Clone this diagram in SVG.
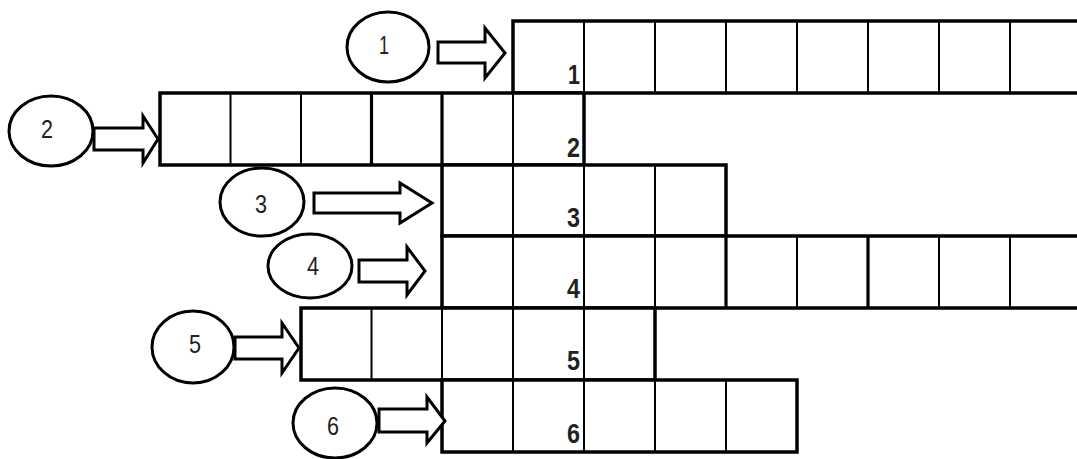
<svg xmlns="http://www.w3.org/2000/svg" width="1077" height="459" viewBox="0 0 1077 459">
<style>
.bg{fill:#ffffff}
.frame{fill:#ffffff;stroke:#000;stroke-width:3.5}
.in{stroke:#000;stroke-width:2;fill:none}
.inb{stroke:#000;stroke-width:3.2;fill:none}
.circ{fill:#ffffff;stroke:#000;stroke-width:3}
.arr{fill:#ffffff;stroke:#000;stroke-width:3;stroke-linejoin:miter}
.ct{font-family:"Liberation Sans",Arial,sans-serif;font-size:25px;fill:#222;text-anchor:middle}
.num{font-family:"Liberation Sans",Arial,sans-serif;font-size:27px;font-weight:bold;fill:#222;text-anchor:end}
</style>
<rect class="bg" x="0" y="0" width="1077" height="459"/>
<g id="row1">
<rect class="frame" x="513" y="21" width="570" height="72"/>
<path class="in" d="M584 21V93M655 21V93M726 21V93M797 21V93M868 21V93M939 21V93M1010 21V93"/>
<text class="num" x="580" y="84" textLength="12" lengthAdjust="spacingAndGlyphs">1</text>
</g>
<g id="row2">
<rect class="frame" x="160" y="93" width="424" height="72"/>
<path class="in" d="M230.5 93V165M301 93V165M513 93V165"/>
<path class="inb" d="M371.5 93V165M442 93V165"/>
<text class="num" x="580" y="157" textLength="13" lengthAdjust="spacingAndGlyphs">2</text>
</g>
<g id="row3">
<rect class="frame" x="442" y="165" width="284" height="71"/>
<path class="in" d="M513 165V236M584 165V236M655 165V236"/>
<text class="num" x="580" y="227" textLength="13" lengthAdjust="spacingAndGlyphs">3</text>
</g>
<g id="row4">
<rect class="frame" x="442" y="236" width="641" height="72"/>
<path class="in" d="M513 236V308M584 236V308M655 236V308M797 236V308M939 236V308M1010 236V308"/>
<path class="inb" d="M726 236V308M868 236V308"/>
<text class="num" x="580" y="298" textLength="13" lengthAdjust="spacingAndGlyphs">4</text>
</g>
<g id="row5">
<rect class="frame" x="301" y="308" width="354" height="72"/>
<path class="in" d="M371.5 308V380M442 308V380M513 308V380M584 308V380"/>
<text class="num" x="580" y="370" textLength="13" lengthAdjust="spacingAndGlyphs">5</text>
</g>
<g id="row6">
<rect class="frame" x="442" y="380" width="355" height="72"/>
<path class="in" d="M513 380V452M584 380V452M655 380V452M726 380V452"/>
<text class="num" x="580" y="443" textLength="13" lengthAdjust="spacingAndGlyphs">6</text>
</g>
<g id="connectors">
<polygon class="arr" points="438,42 485,42 485,28 505,53 485,78 485,63 438,63"/>
<polygon class="arr" points="94,128 143,128 143,116 158,139 143,163 143,150 94,150"/>
<polygon class="arr" points="314,193 400,193 400,183 432,203 400,223 400,213 314,213"/>
<polygon class="arr" points="359,260 407,260 407,247 425,271 407,295 407,282 359,282"/>
<polygon class="arr" points="235,337 282,337 282,323 299,348 282,373 282,359 235,359"/>
<polygon class="arr" points="379,409 427,409 427,397 445,421 427,443 427,432 379,432"/>
</g>
<g id="node1"><ellipse class="circ" cx="388" cy="47" rx="41" ry="35"/><text class="ct" x="384" y="54" textLength="10" lengthAdjust="spacingAndGlyphs">1</text></g>
<g id="node2"><ellipse class="circ" cx="51" cy="131" rx="42" ry="35"/><text class="ct" x="47" y="138" textLength="12" lengthAdjust="spacingAndGlyphs">2</text></g>
<g id="node3"><ellipse class="circ" cx="262" cy="202" rx="42" ry="34"/><text class="ct" x="261" y="213" textLength="12" lengthAdjust="spacingAndGlyphs">3</text></g>
<g id="node4"><ellipse class="circ" cx="310" cy="266" rx="42" ry="32"/><text class="ct" x="313" y="275" textLength="12" lengthAdjust="spacingAndGlyphs">4</text></g>
<g id="node5"><ellipse class="circ" cx="193" cy="347" rx="41" ry="36"/><text class="ct" x="195" y="353" textLength="12" lengthAdjust="spacingAndGlyphs">5</text></g>
<g id="node6"><ellipse class="circ" cx="335" cy="423" rx="42" ry="35"/><text class="ct" x="333" y="435" textLength="12" lengthAdjust="spacingAndGlyphs">6</text></g>
</svg>
